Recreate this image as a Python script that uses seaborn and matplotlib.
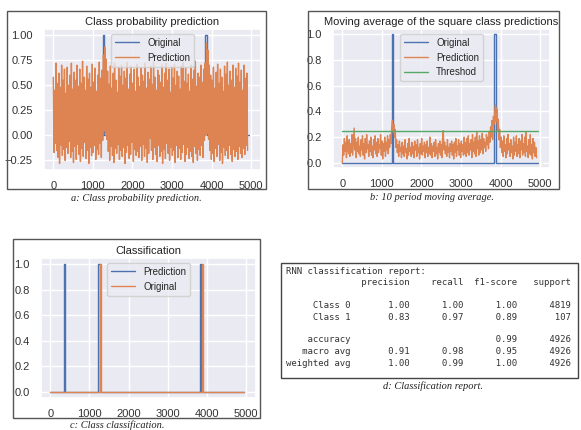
import numpy as np
import pandas as pd
import matplotlib
matplotlib.use("Agg")
import matplotlib.pyplot as plt
from matplotlib.patches import Rectangle
import seaborn as sns

# ---------------- data ----------------
# sample spacing of the hand-read noisy series (time index)
step_a = 17.6
pred_a = [
    0.58, -0.17, 0.45, -0.08, 0.72, -0.15, 0.52, -0.22, 0.62, -0.28,
    0.48, -0.10, 0.70, -0.20, 0.55, -0.14, 0.66, -0.25, 0.42, -0.12,
    0.68, -0.18, 0.50, -0.06, 0.60, -0.22, 0.72, -0.16, 0.46, -0.27,
    0.63, -0.11, 0.55, -0.24, 0.70, -0.09, 0.49, -0.19, 0.66, -0.26,
    0.52, -0.13, 0.74, -0.21, 0.58, -0.07, 0.45, -0.23, 0.69, -0.15,
    0.56, -0.28, 0.62, -0.12, 0.48, -0.20, 0.71, -0.17, 0.53, -0.10,
    0.67, -0.24, 0.44, -0.14, 0.60, -0.19, 0.73, -0.08, 0.57, -0.22,
    0.65, -0.05, 0.80, 0.05, 0.88, 0.02, 0.76, -0.04, 0.64, -0.16,
    0.51, -0.25, 0.69, -0.11, 0.47, -0.20, 0.62, -0.27, 0.72, -0.13,
    0.55, -0.18, 0.43, -0.09, 0.68, -0.24, 0.59, -0.15, 0.70, -0.21,
    0.50, -0.12, 0.64, -0.28, 0.57, -0.17, 0.73, -0.10, 0.46, -0.23,
    0.61, -0.19, 0.69, -0.07, 0.52, -0.26, 0.66, -0.14, 0.44, -0.20,
    0.71, -0.16, 0.58, -0.22, 0.49, -0.11, 0.67, -0.25, 0.60, -0.09,
    0.54, -0.21, 0.72, -0.13, 0.47, -0.27, 0.63, -0.18, 0.56, -0.03,
    0.69, -0.15, 0.51, -0.24, 0.74, -0.12, 0.58, -0.19, 0.45, -0.26,
    0.65, -0.10, 0.60, -0.21, 0.53, -0.16, 0.70, -0.28, 0.48, -0.14,
    0.62, -0.23, 0.72, -0.08, 0.55, -0.18, 0.66, -0.25, 0.43, -0.12,
    0.68, -0.20, 0.57, -0.15, 0.71, -0.27, 0.50, -0.10, 0.64, -0.22,
    0.59, -0.13, 0.46, -0.24, 0.69, -0.17, 0.73, -0.09, 0.54, -0.26,
    0.67, -0.19, 0.52, -0.12, 0.61, -0.23, 0.44, -0.16, 0.70, -0.21,
    0.56, -0.27, 0.65, -0.11, 0.74, -0.18, 0.49, -0.25, 0.62, -0.14,
    0.58, -0.20, 0.70, -0.10, 0.53, -0.22, 0.66, -0.05, 0.72, 0.00,
    0.92, 0.02, 0.85, -0.04, 0.70, -0.15, 0.60, -0.24, 0.55, -0.18,
    0.68, -0.26, 0.47, -0.13, 0.63, -0.21, 0.71, -0.09, 0.52, -0.25,
    0.66, -0.17, 0.58, -0.28, 0.44, -0.12, 0.69, -0.20, 0.61, -0.15,
    0.73, -0.23, 0.50, -0.10, 0.64, -0.19, 0.55, -0.26, 0.70, -0.14,
    0.48, -0.21, 0.67, -0.16, 0.59, -0.24, 0.72, -0.11, 0.53, -0.18,
    0.65, -0.22, 0.45, -0.13, 0.70, -0.19, 0.57, -0.10, 0.62, -0.15,
]
pred_b = [
    0.00, 0.14, 0.06, 0.19, 0.09, 0.16, 0.04, 0.21, 0.11, 0.07,
    0.18, 0.05, 0.15, 0.08, 0.22, 0.06, 0.17, 0.27, 0.10, 0.19,
    0.04, 0.16, 0.09, 0.20, 0.07, 0.13, 0.05, 0.18, 0.10, 0.21,
    0.06, 0.15, 0.03, 0.19, 0.08, 0.22, 0.11, 0.14, 0.05, 0.17,
    0.09, 0.20, 0.06, 0.13, 0.04, 0.18, 0.10, 0.21, 0.07, 0.16,
    0.05, 0.19, 0.08, 0.14, 0.11, 0.22, 0.06, 0.17, 0.03, 0.15,
    0.09, 0.20, 0.05, 0.16, 0.10, 0.21, 0.07, 0.18, 0.12, 0.22,
    0.15, 0.28, 0.33, 0.24, 0.30, 0.20, 0.26, 0.12, 0.18, 0.08,
    0.14, 0.05, 0.17, 0.09, 0.12, 0.04, 0.16, 0.07, 0.13, 0.05,
    0.18, 0.08, 0.11, 0.03, 0.15, 0.06, 0.19, 0.09, 0.12, 0.05,
    0.16, 0.07, 0.13, 0.04, 0.17, 0.10, 0.14, 0.05, 0.18, 0.08,
    0.12, 0.03, 0.15, 0.07, 0.19, 0.06, 0.13, 0.09, 0.16, 0.04,
    0.14, 0.08, 0.17, 0.05, 0.12, 0.07, 0.20, 0.06, 0.15, 0.04,
    0.13, 0.09, 0.16, 0.05, 0.18, 0.07, 0.12, 0.03, 0.15, 0.08,
    0.17, 0.06, 0.14, 0.04, 0.19, 0.25, 0.10, 0.16, 0.07, 0.13,
    0.05, 0.18, 0.08, 0.12, 0.04, 0.15, 0.09, 0.17, 0.06, 0.14,
    0.03, 0.16, 0.08, 0.19, 0.05, 0.13, 0.10, 0.18, 0.06, 0.15,
    0.04, 0.17, 0.09, 0.14, 0.06, 0.20, 0.07, 0.16, 0.05, 0.19,
    0.08, 0.21, 0.06, 0.15, 0.10, 0.18, 0.04, 0.22, 0.09, 0.16,
    0.07, 0.20, 0.05, 0.24, 0.11, 0.17, 0.06, 0.21, 0.08, 0.18,
    0.10, 0.23, 0.07, 0.19, 0.12, 0.16, 0.09, 0.22, 0.14, 0.20,
    0.11, 0.24, 0.16, 0.28, 0.20, 0.33, 0.18, 0.36, 0.30, 0.40,
    0.45, 0.32, 0.42, 0.25, 0.34, 0.18, 0.26, 0.12, 0.20, 0.08,
    0.17, 0.05, 0.21, 0.09, 0.14, 0.04, 0.19, 0.07, 0.22, 0.10,
    0.15, 0.05, 0.18, 0.08, 0.13, 0.03, 0.20, 0.06, 0.16, 0.09,
    0.21, 0.05, 0.14, 0.07, 0.19, 0.04, 0.17, 0.10, 0.22, 0.06,
    0.15, 0.08, 0.20, 0.05, 0.24, 0.09, 0.13, 0.04, 0.18, 0.07,
    0.22, 0.06, 0.14, 0.03, 0.19, 0.08, 0.16, 0.05, 0.12, 0.04,
]
# original (true) class as step breakpoints
orig_x = [0, 1245, 1245, 1292, 1292, 3842, 3842, 3895, 3895, 4950]
orig_y = [0, 0, 1, 1, 0, 0, 1, 1, 0, 0]
threshold = 0.25
thr_x = [0, 4950]
# classification (panel c)
cls_pred_x = [0, 355, 355, 368, 368, 1222, 1222, 1260, 1260, 3812, 3812, 3848, 3848, 4950]
cls_pred_y = [0, 0, 1, 1, 0, 0, 1, 1, 0, 0, 1, 1, 0, 0]
cls_orig_x = [0, 1262, 1262, 1300, 1300, 3860, 3860, 3898, 3898, 4950]
cls_orig_y = [0, 0, 1, 1, 0, 0, 1, 1, 0, 0]
# classification report (panel d)
rep_classes = ["Class 0", "Class 1"]
rep_precision = [1.00, 0.83]
rep_recall = [1.00, 0.97]
rep_f1 = [1.00, 0.89]
rep_support = [4819, 107]
acc_f1, acc_support = 0.99, 4926
avg_names = ["macro avg", "weighted avg"]
avg_precision = [0.91, 1.00]
avg_recall = [0.98, 0.99]
avg_f1 = [0.95, 1.00]
avg_support = [4926, 4926]

titles = ["Class probability prediction", "Moving average of the square class predictions", "Classification"]
captions = ["a: Class probability prediction.", "b: 10 period moving average.",
            "c: Class classification.", "d: Classification report."]

# ---------------- style ----------------
sns.set_theme(style="darkgrid")
plt.rcParams["font.family"] = ["Liberation Sans", "DejaVu Sans"]
pal = sns.color_palette("deep")
C_BLUE, C_ORANGE, C_GREEN = pal[0], pal[1], pal[2]

W, H = 581, 430
fig = plt.figure(figsize=(W / 100, H / 100), dpi=100)
fig.patch.set_facecolor("white")


def pos(x0, y0, x1, y1):
    return [x0 / W, 1 - y1 / H, (x1 - x0) / W, (y1 - y0) / H]


def frame(x0, y0, x1, y1, color="#555555", lw=1.0):
    fig.patches.append(Rectangle((x0 / W, 1 - y1 / H), (x1 - x0) / W, (y1 - y0) / H,
                                 transform=fig.transFigure, fill=False,
                                 edgecolor=color, linewidth=lw))


def style_ax(ax, title):
    ax.set_title(title, fontsize=8, pad=3, color="#222222")
    ax.tick_params(labelsize=8, pad=2, colors="#333333")
    ax.set_xlabel("")
    ax.set_ylabel("")
    ax.legend(loc="upper center", fontsize=7, handlelength=2.5)


# panel a
xa = np.arange(len(pred_a)) * step_a
ax_a = fig.add_axes(pos(44, 29, 261, 170))
sns.lineplot(x=orig_x, y=orig_y, ax=ax_a, color=C_BLUE, lw=1.0, estimator=None, sort=False, label="Original")
sns.lineplot(x=xa, y=pred_a, ax=ax_a, color=C_ORANGE, lw=1.0, estimator=None, sort=False, label="Prediction")
ax_a.set_yticks([-0.25, 0.0, 0.25, 0.5, 0.75, 1.0])
ax_a.set_yticklabels(["\u22120.25", "0.00", "0.25", "0.50", "0.75", "1.00"])
ax_a.set_ylim(-0.345, 1.06)
style_ax(ax_a, titles[0])

# panel b
xb = np.arange(len(pred_b)) * step_a
ax_b = fig.add_axes(pos(333, 29, 550, 168))
sns.lineplot(x=orig_x, y=orig_y, ax=ax_b, color=C_BLUE, lw=1.0, estimator=None, sort=False, label="Original")
sns.lineplot(x=xb, y=pred_b, ax=ax_b, color=C_ORANGE, lw=1.0, estimator=None, sort=False, label="Prediction")
sns.lineplot(x=thr_x, y=[threshold, threshold], ax=ax_b, color=C_GREEN, lw=1.0, estimator=None, sort=False, label="Threshod")
ax_b.set_yticks([0.0, 0.2, 0.4, 0.6, 0.8, 1.0])
ax_b.set_ylim(-0.04, 1.04)
style_ax(ax_b, titles[1])

# panel c
ax_c = fig.add_axes(pos(41, 258, 256, 398))
sns.lineplot(x=cls_pred_x, y=cls_pred_y, ax=ax_c, color=C_BLUE, lw=1.0, estimator=None, sort=False, label="Prediction")
sns.lineplot(x=cls_orig_x, y=cls_orig_y, ax=ax_c, color=C_ORANGE, lw=1.0, estimator=None, sort=False, label="Original")
ax_c.set_yticks([0.0, 0.2, 0.4, 0.6, 0.8, 1.0])
ax_c.set_ylim(-0.05, 1.05)
style_ax(ax_c, titles[2])

for ax in (ax_a, ax_b, ax_c):
    ax.set_xticks([0, 1000, 2000, 3000, 4000, 5000])
    ax.set_xlim(-235, 5250)

# frames
frame(7, 11, 266, 189)
frame(308, 11, 559, 189)
frame(13, 239, 260, 418)
frame(281, 263, 578, 378, color="#444444")

# report text
lines = ["RNN classification report:",
         "{:>12s} ".format("") + "".join(" {:>9}".format(h) for h in ["precision", "recall", "f1-score", "support"]),
         ""]
for n, p, r, f, s in zip(rep_classes, rep_precision, rep_recall, rep_f1, rep_support):
    lines.append("{:>12s} ".format(n) + " {:>9.2f} {:>9.2f} {:>9.2f} {:>9}".format(p, r, f, s))
lines.append("")
lines.append("{:>12s} ".format("accuracy") + " {:>9} {:>9} {:>9.2f} {:>9}".format("", "", acc_f1, acc_support))
for n, p, r, f, s in zip(avg_names, avg_precision, avg_recall, avg_f1, avg_support):
    lines.append("{:>12s} ".format(n) + " {:>9.2f} {:>9.2f} {:>9.2f} {:>9}".format(p, r, f, s))
for k, ln in enumerate(lines):
    fig.text(286 / W, 1 - (271 + 11.5 * k) / H, ln, family="DejaVu Sans Mono", fontsize=6.45,
             va="center", ha="left", color="#333333")

# captions
cap_pos = [(136, 198), (432, 197), (117, 425), (433, 386)]
for (cx, cy), cap in zip(cap_pos, captions):
    fig.text(cx / W, 1 - cy / H, cap, family=["Liberation Serif", "DejaVu Serif"], style="italic",
             fontsize=7.5, ha="center", va="center", color="#222222")

fig.savefig("out.png", dpi=100, facecolor="white")
